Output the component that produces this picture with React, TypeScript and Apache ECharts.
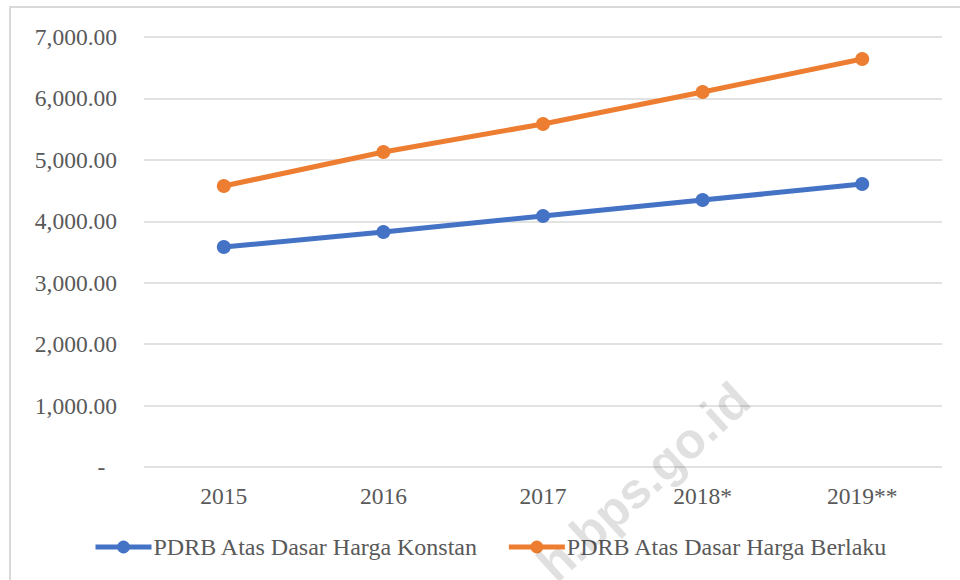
import React, { useEffect, useRef } from "react";
import * as echarts from "echarts";

const categories = ["2015", "2016", "2017", "2018*", "2019**"];
const konstan = [3581, 3826, 4086, 4346, 4607];
const berlaku = [4574, 5128, 5584, 6105, 6642];
const seriesNames = ["PDRB Atas Dasar Harga Konstan", "PDRB Atas Dasar Harga Berlaku"];
const watermark = "h.bps.go.id";

const FONT = "Liberation Serif";

export default function App() {
  const ref = useRef<HTMLDivElement>(null);
  useEffect(() => {
    document.body.style.margin = "0";
    const chart = echarts.init(ref.current!, null, { renderer: "svg" });
    chart.setOption({
      animation: false,
      backgroundColor: "#ffffff",
      grid: { left: 144, right: 18, top: 37, bottom: 113, containLabel: false },
      xAxis: {
        type: "category",
        data: categories,
        boundaryGap: true,
        axisLine: { show: false },
        axisTick: { show: false },
        axisLabel: { color: "#595959", fontFamily: FONT, fontSize: 23.5, margin: 17 },
      },
      yAxis: {
        type: "value",
        min: 0,
        max: 7000,
        interval: 1000,
        axisLine: { show: false },
        axisTick: { show: false },
        splitLine: { lineStyle: { color: "#d9d9d9", width: 1.5 } },
        axisLabel: {
          color: "#595959",
          fontFamily: FONT,
          fontSize: 23.5,
          margin: 27,
          formatter: (v: number) =>
            v === 0
              ? "-\u00a0\u00a0"
              : v.toLocaleString("en-US", { minimumFractionDigits: 2, maximumFractionDigits: 2 }),
        },
      },
      legend: {
        bottom: 16,
        left: 88,
        itemGap: 28,
        itemWidth: 56,
        itemHeight: 16,
        lineStyle: { width: 5 },
        textStyle: { color: "#595959", fontFamily: FONT, fontSize: 24, padding: [0, 0, 0, -3] },
        data: seriesNames,
      },
      series: [
        {
          name: seriesNames[0],
          type: "line",
          data: konstan,
          symbol: "circle",
          symbolSize: 14,
          lineStyle: { color: "#4472C4", width: 5 },
          itemStyle: { color: "#4472C4" },
        },
        {
          name: seriesNames[1],
          type: "line",
          data: berlaku,
          symbol: "circle",
          symbolSize: 14,
          lineStyle: { color: "#ED7D31", width: 5 },
          itemStyle: { color: "#ED7D31" },
        },
      ],
      graphic: [
        {
          type: "rect",
          shape: { x: 10, y: 7, width: 1000, height: 700 },
          style: { fill: "none", stroke: "#d9d9d9", lineWidth: 2 },
          silent: true,
        },
        {
          type: "text",
          x: 742,
          y: 392,
          rotation: 0.74,
          style: {
            text: watermark,
            fontFamily: "Liberation Sans",
            fontWeight: "bold",
            fontSize: 50,
            fill: "rgba(0,0,0,0.12)",
            textAlign: "right",
            textVerticalAlign: "middle",
          },
          silent: true,
          z: 100,
        },
      ],
    });
    return () => chart.dispose();
  }, []);
  return <div ref={ref} style={{ width: 960, height: 580 }} />;
}
